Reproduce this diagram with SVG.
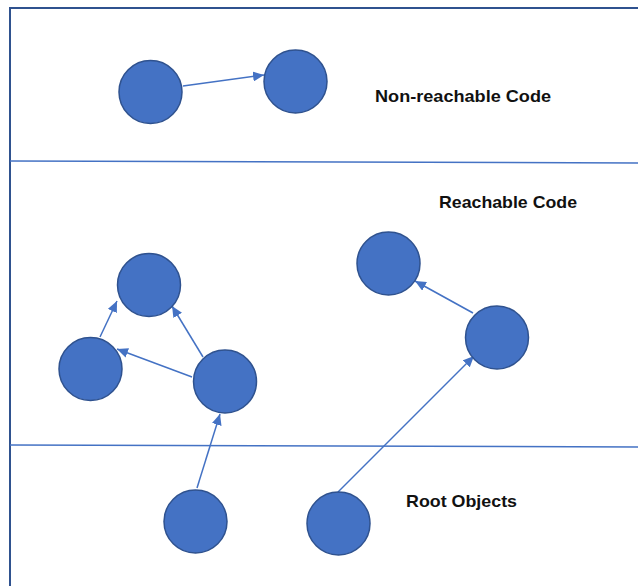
<svg xmlns="http://www.w3.org/2000/svg" width="638" height="586" viewBox="0 0 638 586">
  <style>
    .frame { stroke: #2F528F; stroke-width: 2; fill: none; }
    .divider { stroke: #4472C4; stroke-width: 1.5; fill: none; }
    .node { fill: #4472C4; stroke: #2F528F; stroke-width: 1.5; }
    .edge { stroke: #4472C4; stroke-width: 1.5; fill: none; marker-end: url(#head); }
    .label { font-family: "Liberation Sans", Arial, sans-serif; font-weight: bold; font-size: 17px; fill: #111; }
  </style>
  <defs>
    <marker id="head" markerUnits="userSpaceOnUse" markerWidth="12" markerHeight="10" refX="11" refY="5" orient="auto">
      <path d="M0,0 L11,5 L0,10 Z" fill="#4472C4"/>
    </marker>
  </defs>
  <rect width="638" height="586" fill="#fff"/>

  <!-- outer frame and section dividers -->
  <g id="frame">
    <path class="frame" d="M10,586 V8 H638"/>
    <path class="divider" d="M10,161 L638,163"/>
    <path class="divider" d="M10,445 L638,447"/>
  </g>

  <!-- section labels -->
  <text class="label" x="375" y="102" textLength="176" lengthAdjust="spacingAndGlyphs">Non-reachable Code</text>
  <text class="label" x="439" y="208" textLength="138" lengthAdjust="spacingAndGlyphs">Reachable Code</text>
  <text class="label" x="406" y="507" textLength="111" lengthAdjust="spacingAndGlyphs">Root Objects</text>

  <!-- connectors -->
  <g id="connectors">
    <line class="edge" x1="183" y1="86" x2="264" y2="75"/>
    <line class="edge" x1="100" y1="337" x2="117" y2="301"/>
    <line class="edge" x1="203" y1="357" x2="172" y2="306"/>
    <line class="edge" x1="192" y1="377" x2="117" y2="349"/>
    <line class="edge" x1="197" y1="488" x2="220" y2="414"/>
    <line class="edge" x1="473" y1="313" x2="415" y2="281"/>
    <line class="edge" x1="338" y1="492" x2="474" y2="356"/>
  </g>

  <!-- nodes -->
  <g id="orphan-a"><circle class="node" cx="150.5" cy="92" r="31.5"/></g>
  <g id="orphan-b"><circle class="node" cx="295.5" cy="81.5" r="31.5"/></g>
  <g id="obj-top"><circle class="node" cx="149" cy="285" r="31.5"/></g>
  <g id="obj-left"><circle class="node" cx="90.5" cy="369" r="31.5"/></g>
  <g id="obj-right"><circle class="node" cx="225" cy="381.5" r="31.5"/></g>
  <g id="obj-far"><circle class="node" cx="388.5" cy="263.5" r="31.5"/></g>
  <g id="obj-mid"><circle class="node" cx="497" cy="337.5" r="31.5"/></g>
  <g id="root-a"><circle class="node" cx="195.5" cy="521.5" r="31.5"/></g>
  <g id="root-b"><circle class="node" cx="338.5" cy="523.5" r="31.5"/></g>
</svg>
